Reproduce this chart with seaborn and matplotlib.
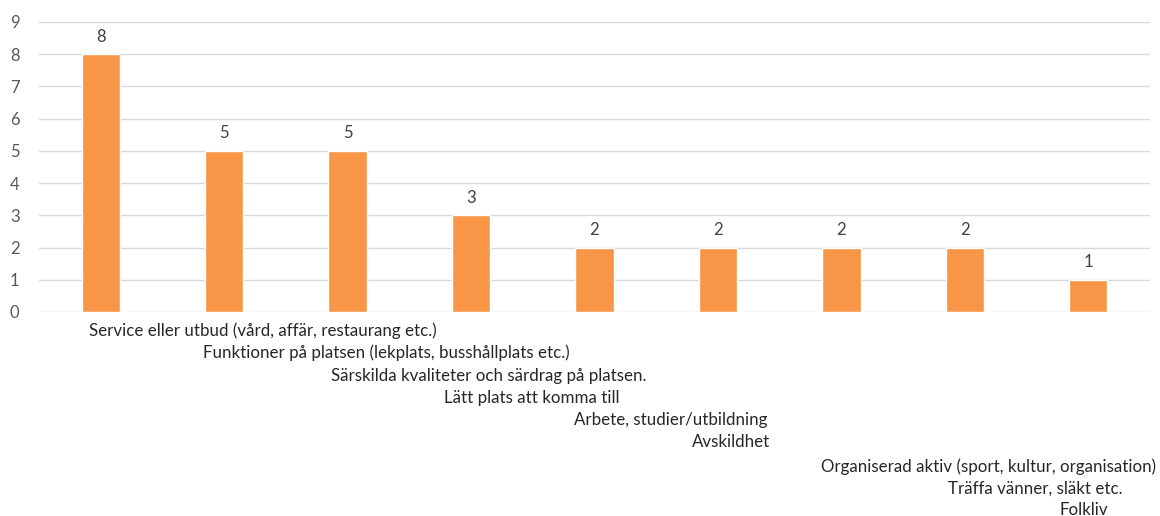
import pandas as pd
import matplotlib.pyplot as plt
import matplotlib.transforms as mtransforms
import seaborn as sns

# data
kategorier = [
    "Service eller utbud (vård, affär, restaurang etc.)",
    "Funktioner på platsen (lekplats, busshållplats etc.)",
    "Särskilda kvaliteter och särdrag på platsen.",
    "Lätt plats att komma till",
    "Arbete, studier/utbildning",
    "Avskildhet",
    "Organiserad aktiv (sport, kultur, organisation)",
    "Träffa vänner, släkt etc.",
    "Folkliv",
]
antal = [8, 5, 5, 3, 2, 2, 2, 2, 1]
titel = "Platsens värden enligt de tillfrågade, antal svar grupperade i tema"

# label layout (Excel-style staggered labels): centre in category units, y in pixels
lbl_x = [1.31, 2.31, 3.14, 3.49, 4.62, 5.11, 7.19, 7.57, 7.96]
lbl_y = [331, 353, 376, 398, 420, 442, 467, 489, 510]

df = pd.DataFrame({"kategori": kategorier, "antal": antal})

sns.set_style("white")
plt.rcParams["font.family"] = ["Lato", "DejaVu Sans"]

W, H = 1160, 516
fig = plt.figure(figsize=(W / 100, H / 100), dpi=100)
ax = fig.add_axes([39 / W, 1 - 312 / H, (1150 - 39) / W, (312 - 22) / H])

sns.barplot(data=df, x="kategori", y="antal", order=kategorier,
            color="#F79646", saturation=1, width=0.31, ax=ax, zorder=3)

ax.set_ylim(0, 9)
ax.set_xlim(-0.5, len(kategorier) - 0.5)
ax.set_yticks(range(0, 10))
ax.yaxis.grid(True, color="#D9D9D9", linewidth=1, zorder=0)
ax.tick_params(axis="y", length=0, labelsize=12, labelcolor="#595959", pad=14)
ax.set_xticks([])
ax.set_xlabel("")
ax.set_ylabel("")
for s in ax.spines.values():
    s.set_visible(False)

for i, v in enumerate(antal):
    ax.text(i, v + 0.3, str(v), ha="center", va="bottom", fontsize=12, color="#404040")

# staggered category labels
trans = mtransforms.blended_transform_factory(ax.transData, fig.transFigure)
for i, lab in enumerate(kategorier):
    ax.text(lbl_x[i], 1 - lbl_y[i] / H, lab, transform=trans, ha="center", va="center",
            fontsize=12.2, color="#262626", clip_on=False)

# title, cut off at the top edge as in the source
fig.text(30 / W, 1 + 3 / H, titel, ha="left", va="baseline",
         fontsize=13, fontweight="bold", color="#262626")

fig.savefig("out.png", dpi=100)
